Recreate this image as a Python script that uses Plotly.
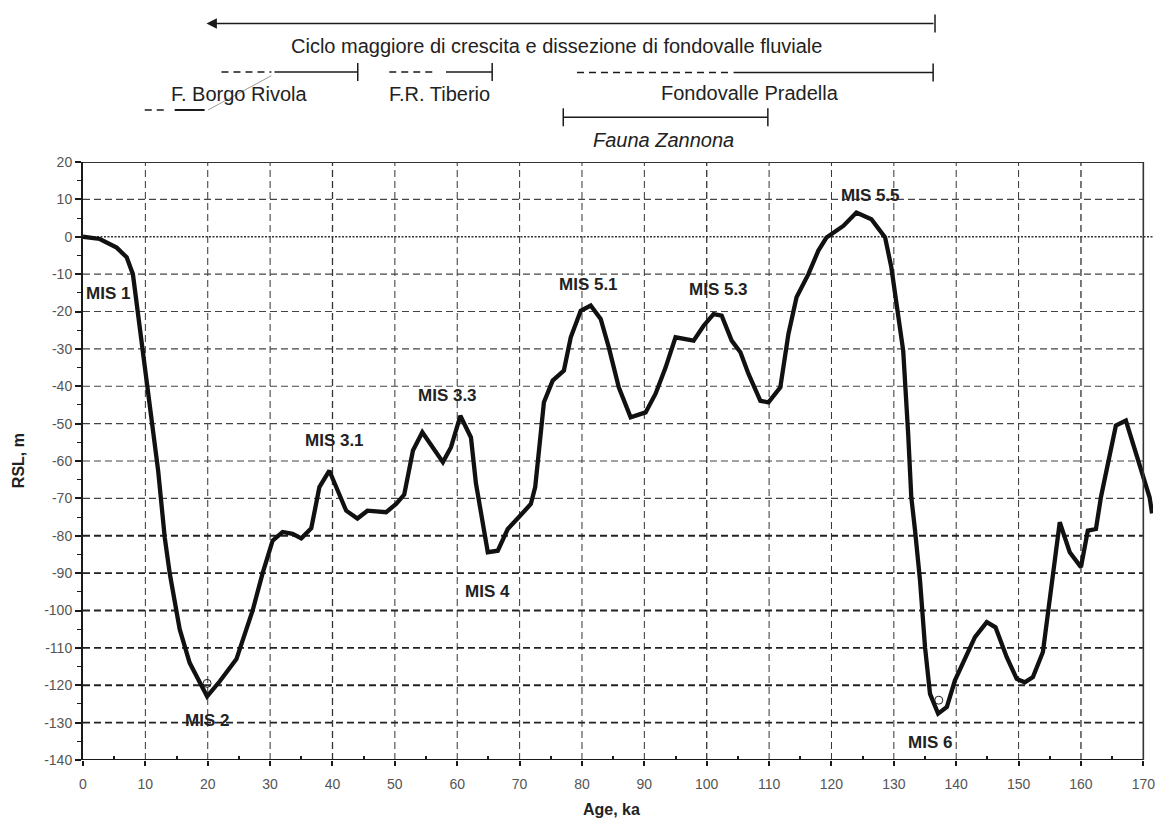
import plotly.graph_objects as go

# ---- data ----
age_ka = [0, 2.7, 5.4, 7.0, 8.0, 9.6, 10.4, 11.3, 12.05, 13.1, 13.9, 15.5, 17.1, 19.9,
          21.9, 24.6, 27.2, 28.8, 30.4, 32.0, 33.6, 35.0, 36.6, 37.9, 39.5, 42.2, 44.0,
          45.6, 48.6, 50.2, 51.5, 52.9, 54.4, 57.7, 59.0, 60.5, 62.2, 63.0, 64.0, 64.9,
          66.5, 68.1, 69.9, 71.8, 72.5, 73.9, 75.3, 77.1, 78.2, 79.8, 81.4, 83.0, 84.3,
          85.9, 87.8, 90.2, 91.8, 93.4, 95.0, 97.9, 99.5, 101.1, 102.4, 104.0, 105.4,
          106.7, 108.6, 109.9, 111.8, 113.1, 114.4, 116.3, 117.9, 119.2, 121.9, 124.0,
          126.4, 128.6, 129.6, 130.9, 131.5, 132.3, 132.8, 133.4, 134.2, 135.0, 135.8,
          137.1, 138.5, 139.8, 141.9, 143.0, 144.9, 146.3, 148.1, 149.7, 151.0, 152.3,
          153.9, 155.2, 156.6, 158.2, 160.0, 161.1, 162.4, 163.2, 165.6, 167.2, 169.1,
          171.0, 171.4]
rsl_m = [0, -0.6, -2.9, -5.5, -10, -30.5, -40, -51, -62.6, -80.4, -90, -105, -114, -123,
         -119, -113, -100, -90, -81.3, -79, -79.5, -80.7, -78, -67, -62.6, -73.3, -75.4,
         -73.3, -73.7, -71.5, -69, -57.2, -52.3, -60.3, -56.3, -47.9, -53.7, -66, -76, -84.4,
         -84, -78.2, -75, -71.5, -67, -44.3, -38.5, -35.8, -26.9, -19.8, -18.4, -22, -29.6,
         -40.3, -48.3, -47, -42, -35, -26.9, -27.8, -23.8, -20.7, -21.1, -27.8, -30.9,
         -36.7, -43.9, -44.3, -40.3, -26, -16.2, -10, -3.7, -0.2, 2.9, 6.5,
         4.7, -0.2, -8.2, -23.4, -30.5, -52.8, -69.7, -78.6, -92, -109.8, -122.3,
         -127.6, -125.8, -118.7, -110.7, -107.1, -103.1, -104.5, -112.5, -118.3, -119.2, -117.8,
         -111.1, -94.7, -76.4, -84.4, -88.4, -78.6, -78.2, -69.7, -50.5, -49.2, -59.9,
         -69.7, -74]

circle_x = [19.9, 137.2]
circle_y = [-119.5, -124]

mis_labels = ["MIS 1", "MIS 2", "MIS 3.1", "MIS 3.3", "MIS 4", "MIS 5.1", "MIS 5.3", "MIS 5.5", "MIS 6"]
mis_x = [4.0, 19.8, 40.3, 58.5, 64.9, 81.1, 101.9, 126.2, 135.8]
mis_y = [-15.2, -129.4, -54.5, -42.5, -95.0, -12.7, -14.0, 11.0, -135.2]

x_ticks = list(range(0, 171, 10))
y_ticks = list(range(-140, 21, 10))

FONT = "Liberation Sans, Arial, sans-serif"
DARK = "#1a1a1a"

fig = go.Figure()

fig.add_trace(go.Scatter(x=age_ka, y=rsl_m, mode="lines",
                         line=dict(color="#111111", width=4.3), cliponaxis=False,
                         showlegend=False, hoverinfo="skip"))
fig.add_trace(go.Scatter(x=circle_x, y=circle_y, mode="markers",
                         marker=dict(symbol="circle-open", size=8, color="#222222",
                                     line=dict(width=1, color="#222222")),
                         showlegend=False, hoverinfo="skip"))

shapes = []
# grid
for xv in x_ticks[1:-1]:
    shapes.append(dict(type="line", xref="x", yref="y", x0=xv, x1=xv, y0=-140, y1=20,
                       line=dict(color="#333333", width=1.3 if xv in (40, 100, 160) else 1,
                                 dash="7px,4px"), layer="below"))
for yv in y_ticks[1:-1]:
    if yv == 0:
        continue
    strong = yv <= -80
    shapes.append(dict(type="line", xref="x", yref="y", x0=0, x1=170, y0=yv, y1=yv,
                       line=dict(color="#222222" if strong else "#444444",
                                 width=1.8 if strong else 1.1, dash="7px,4px"), layer="below"))
# dotted zero line, running a little past the frame
shapes.append(dict(type="line", xref="x", yref="y", x0=0, x1=171.5, y0=0, y1=0,
                   line=dict(color="#333333", width=1.5, dash="2px,1.5px"), layer="below"))
# frame
shapes.append(dict(type="line", xref="x", yref="y", x0=0, x1=170, y0=-140, y1=-140,
                   line=dict(color=DARK, width=2)))
shapes.append(dict(type="line", xref="x", yref="y", x0=0, x1=170, y0=20, y1=20,
                   line=dict(color="#333333", width=2)))
shapes.append(dict(type="line", xref="x", yref="y", x0=170, x1=170, y0=-140, y1=20,
                   line=dict(color="#333333", width=1.6)))

# ---- top annotation bars (paper y above the plot) ----
def seg(x0, x1, y, dash=None, color=DARK, width=1.5):
    d = dict(type="line", xref="x", yref="paper", x0=x0, x1=x1, y0=y, y1=y,
             line=dict(color=color, width=width))
    if dash:
        d["line"]["dash"] = dash
    shapes.append(d)

def tick(x, y, h=0.015):
    shapes.append(dict(type="line", xref="x", yref="paper", x0=x, x1=x, y0=y - h, y1=y + h,
                       line=dict(color=DARK, width=1.5)))

Y_ARROW = 1.2316
Y_ROW1 = 1.1506
Y_ROW2 = 1.087
Y_FAUNA = 1.0748

tick(136.6, Y_ARROW)
# Borgo Rivola
seg(22.2, 30.2, Y_ROW1, dash="7px,5px")
seg(30.7, 44.05, Y_ROW1)
tick(44.05, Y_ROW1)
seg(9.9, 13.1, Y_ROW2, dash="7px,5px")
seg(14.7, 19.5, Y_ROW2, width=2)
shapes.append(dict(type="line", xref="x", yref="paper", x0=20.05, x1=30.2, y0=Y_ROW2, y1=1.1443,
                   line=dict(color="#9a9a9a", width=1)))
# Tiberio
seg(49.1, 56.8, Y_ROW1, dash="7px,5px")
seg(58.2, 65.6, Y_ROW1)
tick(65.6, Y_ROW1)
# Pradella
seg(79.2, 104.0, Y_ROW1 - 0.001, dash="7px,5px")
seg(104.3, 136.3, Y_ROW1 - 0.001)
tick(136.3, Y_ROW1 - 0.001)
# Fauna Zannona
seg(77.0, 109.8, Y_FAUNA)
tick(77.0, Y_FAUNA)
tick(109.8, Y_FAUNA)

annotations = []
# arrow
annotations.append(dict(x=19.8, y=Y_ARROW, xref="x", yref="paper", ax=136.6, ay=0,
                        axref="x", ayref="pixel", text="", showarrow=True,
                        arrowhead=2, arrowsize=1.3, arrowwidth=1.6, arrowcolor=DARK,
                        standoff=0, startstandoff=0))
top_font = dict(family=FONT, size=20, color="#222222")
top_texts = ["Ciclo maggiore di crescita e dissezione di fondovalle fluviale",
             "F. Borgo Rivola", "F.R. Tiberio", "Fondovalle Pradella", "<i>Fauna Zannona</i>"]
top_x = [75.9, 25.0, 57.1, 107.0, 93.0]
top_y = [1.194, 1.1132, 1.1132, 1.1149, 1.0368]
for t, xv, yv in zip(top_texts, top_x, top_y):
    annotations.append(dict(x=xv, y=yv, xref="x", yref="paper", text=t, showarrow=False,
                            xanchor="center", yanchor="middle", font=top_font))
for lab, xv, yv in zip(mis_labels, mis_x, mis_y):
    annotations.append(dict(x=xv, y=yv, xref="x", yref="y", text="<b>" + lab + "</b>",
                            showarrow=False, xanchor="center", yanchor="middle",
                            font=dict(family=FONT, size=17, color="#222222")))
# axis titles
annotations.append(dict(x=84.8, y=-0.0836, xref="x", yref="paper", text="<b>Age, ka</b>",
                        showarrow=False, xanchor="center", yanchor="middle",
                        font=dict(family=FONT, size=16, color="#222222")))
annotations.append(dict(x=-0.0606, y=0.5, xref="paper", yref="paper", text="<b>RSL, m</b>",
                        textangle=-90, showarrow=False, xanchor="center", yanchor="middle",
                        font=dict(family=FONT, size=16, color="#222222")))

fig.update_layout(
    width=1163, height=818,
    margin=dict(l=83, r=8, t=162, b=58, pad=0),
    paper_bgcolor="white", plot_bgcolor="white",
    shapes=shapes, annotations=annotations,
    showlegend=False,
    xaxis=dict(range=[0, 171.55], tickmode="array", tickvals=x_ticks,
               ticktext=[str(v) for v in x_ticks],
               showgrid=False, zeroline=False, showline=False,
               ticks="outside", ticklen=5, tickwidth=1.5, tickcolor=DARK,
               ticklabelstandoff=6,
               minor=dict(ticks="inside", tickvals=[v + 5 for v in x_ticks[:-1]], ticklen=4,
                          tickwidth=1.5, tickcolor=DARK, showgrid=False),
               tickfont=dict(family=FONT, size=14, color="#555555")),
    yaxis=dict(range=[-140, 20], tickmode="array", tickvals=y_ticks,
               ticktext=[str(v) for v in y_ticks],
               showgrid=False, zeroline=False, showline=True, linecolor=DARK, linewidth=2,
               ticks="outside", ticklen=6, tickwidth=1.5, tickcolor=DARK,
               minor=dict(ticks="outside", tickvals=[v + 5 for v in y_ticks[:-1]], ticklen=4,
                          tickwidth=1.2, tickcolor=DARK, showgrid=False),
               tickfont=dict(family=FONT, size=14, color="#555555")),
)

fig.write_html("out.html")
